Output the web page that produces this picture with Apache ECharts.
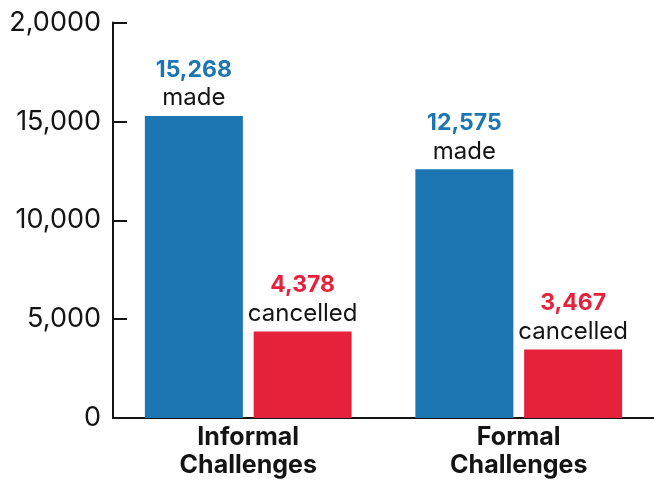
<!DOCTYPE html>
<html>
<head>
<meta charset="utf-8">
<script src="https://cdn.jsdelivr.net/npm/echarts@6/dist/echarts.min.js"></script>
<style>
html,body{margin:0;padding:0;background:#fff;}
#chart{width:654px;height:484px;}
</style>
</head>
<body>
<div id="chart"></div>
<script>
const categories = ['Informal\nChallenges', 'Formal\nChallenges'];
const seriesNames = ['made', 'cancelled'];
const madeValues = [15268, 12575];
const cancelledValues = [4378, 3467];
const yTickValues = [0, 5000, 10000, 15000, 20000];
const yTickLabels = ['0', '5,000', '10,000', '15,000', '2,0000'];

const BLUE = '#1c76b2';
const RED = '#e6213b';
const INK = '#141414';

function labelFor(name, color) {
  return {
    show: true,
    position: 'top',
    distance: 4,
    formatter: p => '{v|' + p.value.toLocaleString('en-US') + '}\n{t|' + name + '}',
    rich: {
      v: { fontFamily: 'Inter', fontWeight: 'bold', fontSize: 23, color: color, lineHeight: 28, align: 'center' },
      t: { fontFamily: 'Inter', fontSize: 24, color: INK, lineHeight: 28, align: 'center' }
    }
  };
}

const chart = echarts.init(document.getElementById('chart'), null, { renderer: 'canvas' });
chart.setOption({
  animation: false,
  backgroundColor: '#fff',
  grid: { left: 113, right: -2, top: 22.5, bottom: 66, containLabel: false },
  xAxis: {
    type: 'category',
    data: categories,
    axisLine: { lineStyle: { color: INK, width: 2 } },
    axisTick: { inside: true, length: 9, lineStyle: { color: INK, width: 2 } },
    axisLabel: {
      margin: 5,
      fontFamily: 'Inter', fontWeight: 'bold', fontSize: 25, color: INK, lineHeight: 28
    }
  },
  yAxis: {
    type: 'value',
    min: 0, max: 20000, interval: 5000,
    axisLine: { show: true, lineStyle: { color: INK, width: 2 } },
    axisTick: { show: true, inside: true, length: 14, lineStyle: { color: INK, width: 2 } },
    splitLine: { show: false },
    axisLabel: {
      margin: 12,
      fontFamily: 'Inter', fontSize: 27, color: INK,
      formatter: v => yTickLabels[yTickValues.indexOf(v)]
    }
  },
  series: [
    { name: seriesNames[0], type: 'bar', data: madeValues, barWidth: 98, barGap: '11%',
      itemStyle: { color: BLUE }, label: labelFor(seriesNames[0], BLUE) },
    { name: seriesNames[1], type: 'bar', data: cancelledValues, barWidth: 98, barGap: '11%',
      itemStyle: { color: RED }, label: labelFor(seriesNames[1], RED) }
  ]
});
</script>
</body>
</html>
